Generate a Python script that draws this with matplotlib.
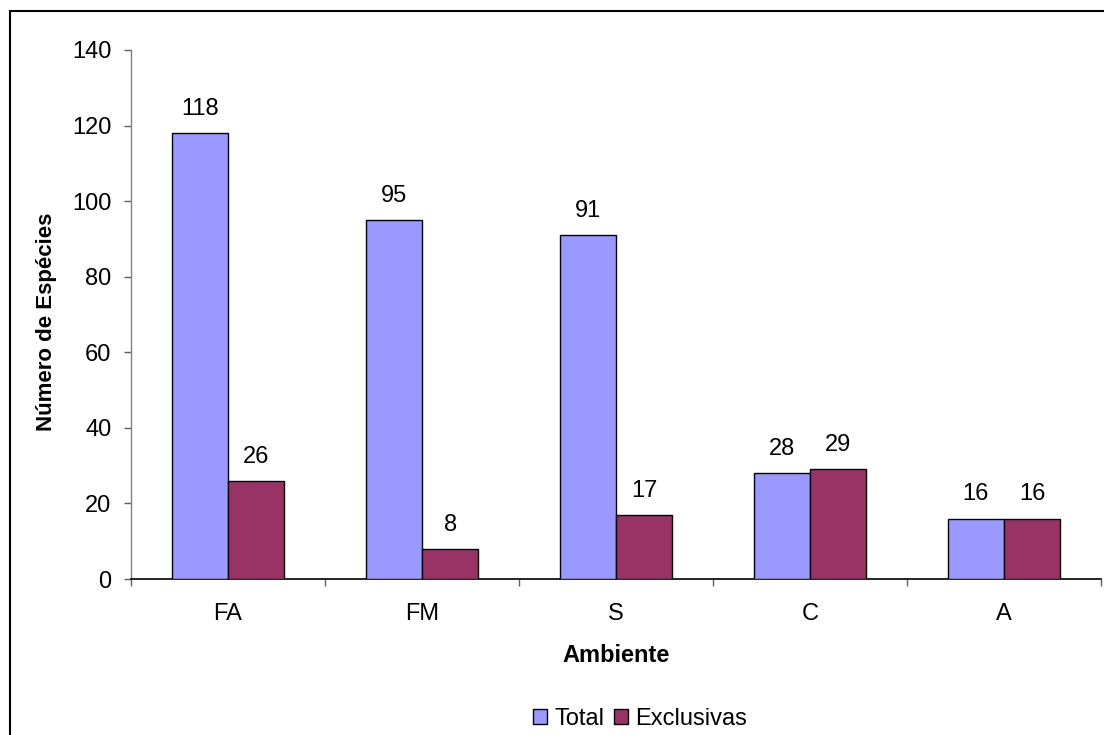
import matplotlib
matplotlib.use("Agg")
import matplotlib.pyplot as plt
from matplotlib.patches import Rectangle
import numpy as np

plt.rcParams['font.family'] = ['Liberation Sans', 'DejaVu Sans']

categories = ["FA", "FM", "S", "C", "A"]
total = [118, 95, 91, 28, 16]
exclusivas = [26, 8, 17, 29, 16]
series_names = ["Total", "Exclusivas"]
colors = ["#9999FF", "#993366"]

W, H = 1104, 735
FS = 17
fig = plt.figure(figsize=(W / 100, H / 100), dpi=100)
fig.patch.set_facecolor("white")

# Outer chart frame
fig.add_artist(Rectangle((10 / W, -0.05), 1.2, 1 - 11 / H + 0.05,
                         transform=fig.transFigure, fill=False,
                         edgecolor="black", linewidth=1.5))

ax = fig.add_axes([131 / W, 1 - 579 / H, (1101 - 131) / W, (579 - 50) / H])

x = np.arange(len(categories))
bw = 0.29
b1 = ax.bar(x - bw / 2, total, bw, color=colors[0], edgecolor="black",
            linewidth=1.0, label=series_names[0], zorder=3)
b2 = ax.bar(x + bw / 2, exclusivas, bw, color=colors[1], edgecolor="black",
            linewidth=1.0, label=series_names[1], zorder=3)

for bars, vals in ((b1, total), (b2, exclusivas)):
    for rect, v in zip(bars, vals):
        ax.annotate(str(v), (rect.get_x() + rect.get_width() / 2, v),
                    xytext=(0, 13), textcoords="offset points",
                    ha="center", va="baseline", fontsize=FS)

ax.set_xlim(-0.5, len(categories) - 0.5)
ax.set_ylim(0, 140)
ax.set_yticks(np.arange(0, 141, 20))

# Category labels centred, tick marks at group boundaries
ax.set_xticks(np.arange(-0.5, len(categories), 1.0))
ax.set_xticklabels([])
ax.set_xticks(x, minor=True)
ax.set_xticklabels(categories, minor=True, fontsize=FS)
ax.tick_params(axis="x", which="minor", length=0, pad=17)
ax.tick_params(axis="x", which="major", direction="out", length=5,
               width=1.0, color="#606060")
ax.tick_params(axis="y", direction="out", length=5, width=1.0,
               color="#606060", labelsize=FS, pad=9)

for s in ("top", "right"):
    ax.spines[s].set_visible(False)
ax.spines["left"].set_color("#808080")
ax.spines["left"].set_linewidth(1.0)
ax.spines["bottom"].set_color("black")
ax.spines["bottom"].set_linewidth(1.2)

fig.text(616 / W, 1 - 655 / H, "Ambiente", fontsize=FS, fontweight="bold",
         ha="center", va="center")
fig.text(47 / W, 1 - 322 / H, "Número de Espécies", fontsize=16,
         fontweight="bold", rotation=90, ha="center", va="center")

leg = fig.legend(handles=[b1, b2], labels=series_names, loc="center",
                 bbox_to_anchor=(640 / W, 1 - 719 / H), ncol=2, frameon=False,
                 fontsize=FS, handlelength=0.6, handleheight=0.6,
                 handletextpad=0.3, columnspacing=0.4, borderpad=0)

fig.savefig("out.png", dpi=100, facecolor="white")
